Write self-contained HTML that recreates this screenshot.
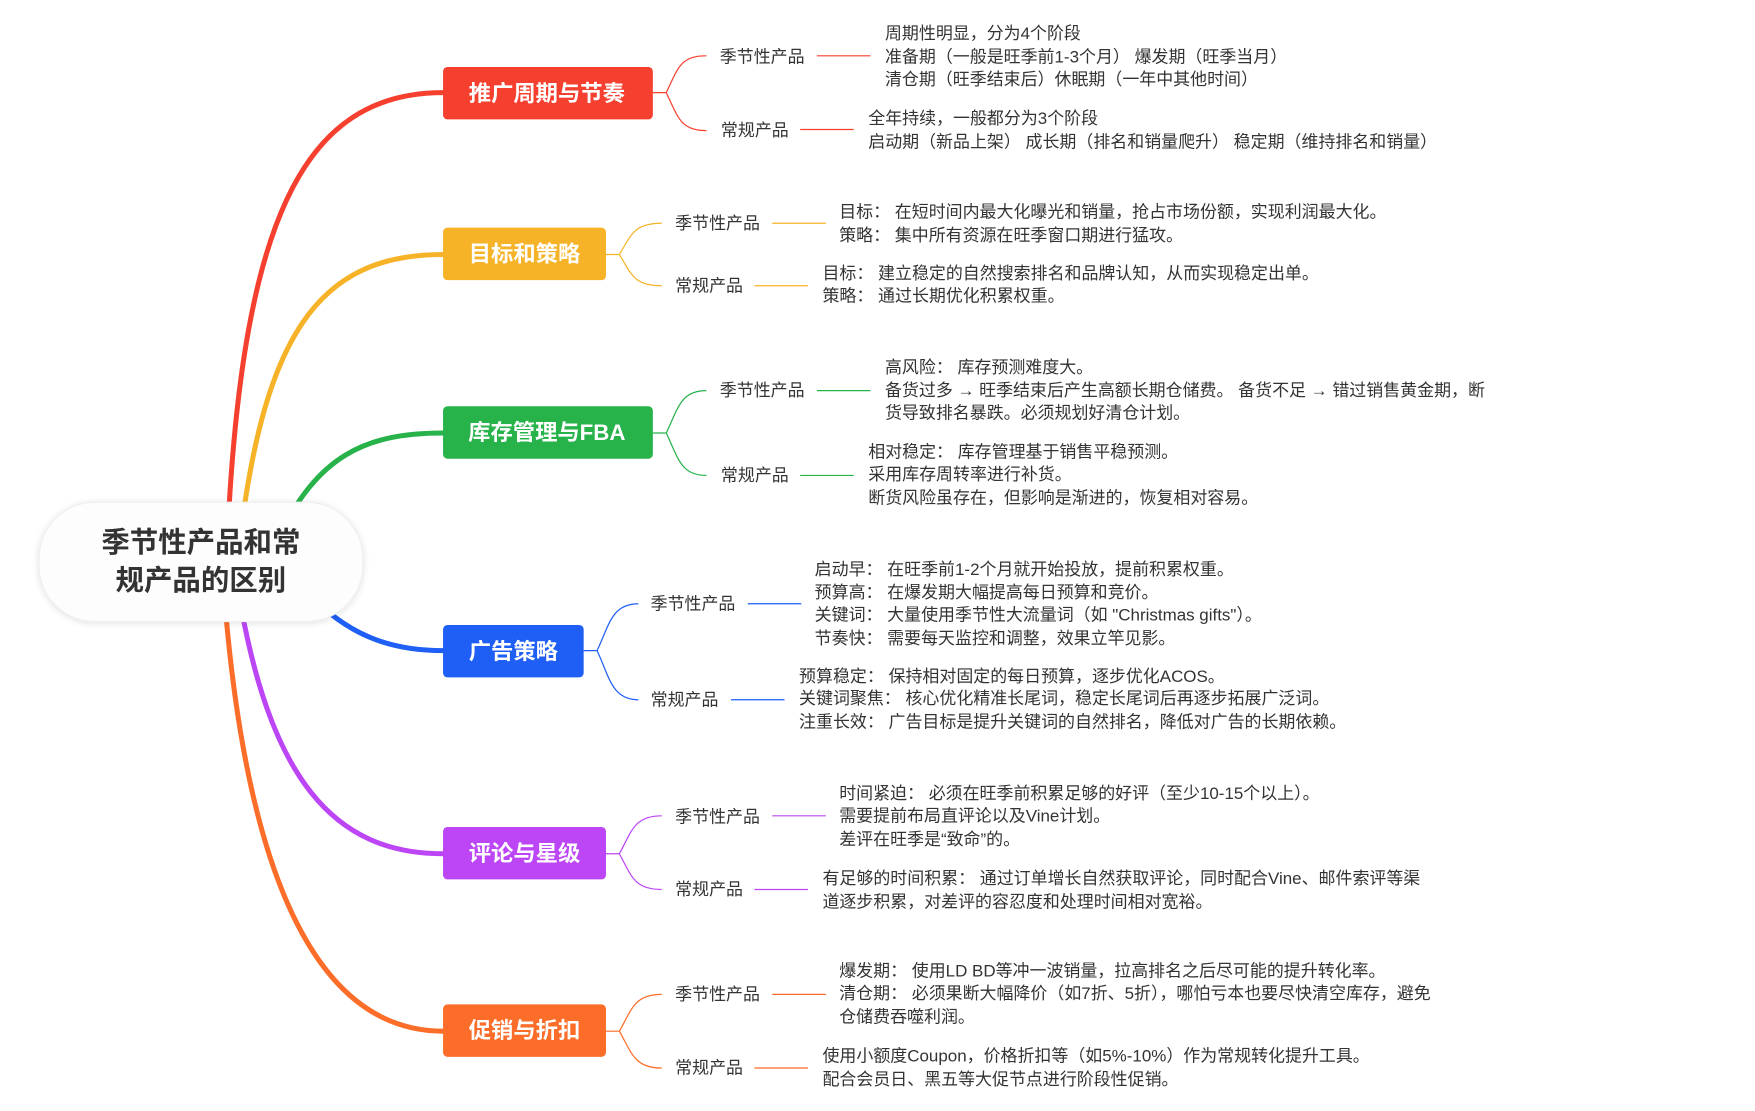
<!DOCTYPE html>
<html><head><meta charset="utf-8"><style>
html,body{margin:0;padding:0;background:#fff;width:1755px;height:1111px;overflow:hidden}
svg{display:block}
text{font-family:"Liberation Sans","Noto Sans CJK SC",sans-serif}
.t{font-size:15.2px;fill:#333;dominant-baseline:middle}
.m{font-size:20px;font-weight:bold;fill:#fff;dominant-baseline:middle;text-anchor:middle}
</style></head><body>
<svg width="1755" height="1111" viewBox="0 0 1572.6 995.5" xmlns="http://www.w3.org/2000/svg">
<defs><filter id="sh" x="-20%" y="-20%" width="140%" height="140%"><feDropShadow dx="0" dy="1" stdDeviation="3" flood-color="#000" flood-opacity="0.12"/></filter></defs>
<g fill="none" stroke-width="4.5" stroke-linecap="round">
<path d="M203 500 C215 200 270 83 397 83" stroke="#f5402f"/>
<path d="M213 500 C235 300 285 228 397 228" stroke="#f6b328"/>
<path d="M250 480 C285 410 325 388 397 388" stroke="#27b24a"/>
<path d="M270 525 C310 570 350 583 397 583" stroke="#1f5ff5"/>
<path d="M212 520 C240 700 300 765 397 765" stroke="#bc45f5"/>
<path d="M200 520 C220 800 290 924 397 924" stroke="#fb6d28"/>
</g>
<g fill="none" stroke-width="1.1">
<g stroke="#f5402f"><path d="M585 83 H597 C608 60 610 50 633 50 M597 83 C608 106 610 117 633 117"/><path d="M732 50 H780 M717 116 H765"/></g>
<g stroke="#f6b328"><path d="M543 228 H555 C566 210 568 200 593 200 M555 228 C566 246 568 256 593 256"/><path d="M692 200 H740 M676 256 H724"/></g>
<g stroke="#27b24a"><path d="M585 388 H597 C608 365 610 350 633 350 M597 388 C608 411 610 426 633 426"/><path d="M732 350 H780 M717 426 H765"/></g>
<g stroke="#1f5ff5"><path d="M523 583 H535 C546 560 548 541 572 541 M535 583 C546 606 548 627 572 627"/><path d="M670 541 H718 M655 627 H703"/></g>
<g stroke="#bc45f5"><path d="M543 765 H555 C566 745 568 731 593 731 M555 765 C566 785 568 797 593 797"/><path d="M692 731 H740 M676 797 H724"/></g>
<g stroke="#fb6d28"><path d="M543 924 H555 C566 905 568 891 593 891 M555 924 C566 943 568 957 593 957"/><path d="M692 891 H740 M676 957 H724"/></g>
</g>
<rect x="35" y="450" width="290" height="107" rx="50" fill="#fdfdfd" stroke="#eee" filter="url(#sh)"/>
<text x="180" y="488" font-size="25.5" font-weight="bold" fill="#333" text-anchor="middle" dominant-baseline="middle">季节性产品和常</text>
<text x="180" y="522" font-size="25.5" font-weight="bold" fill="#333" text-anchor="middle" dominant-baseline="middle">规产品的区别</text>
<rect x="397" y="60" width="188" height="47" rx="4" fill="#f5402f"/><text class="m" x="490" y="85">推广周期与节奏</text>
<rect x="397" y="204" width="146" height="47" rx="4" fill="#f6b328"/><text class="m" x="470" y="229">目标和策略</text>
<rect x="397" y="364" width="188" height="47" rx="4" fill="#27b24a"/><text class="m" x="490" y="389">库存管理与FBA</text>
<rect x="397" y="560" width="126" height="47" rx="4" fill="#1f5ff5"/><text class="m" x="460" y="585">广告策略</text>
<rect x="397" y="741" width="146" height="47" rx="4" fill="#bc45f5"/><text class="m" x="470" y="766">评论与星级</text>
<rect x="397" y="900" width="146" height="47" rx="4" fill="#fb6d28"/><text class="m" x="470" y="925">促销与折扣</text>

<text class="t" x="645" y="52">季节性产品</text><text class="t" x="646" y="118">常规产品</text>
<text class="t" x="793" y="31">周期性明显，分为4个阶段</text>
<text class="t" x="793" y="52">准备期（一般是旺季前1-3个月） 爆发期（旺季当月）</text>
<text class="t" x="793" y="72">清仓期（旺季结束后）休眠期（一年中其他时间）</text>
<text class="t" x="778" y="107">全年持续，一般都分为3个阶段</text>
<text class="t" x="778" y="128">启动期（新品上架） 成长期（排名和销量爬升） 稳定期（维持排名和销量）</text>

<text class="t" x="605" y="201">季节性产品</text><text class="t" x="605" y="257">常规产品</text>
<text class="t" x="752" y="191">目标： 在短时间内最大化曝光和销量，抢占市场份额，实现利润最大化。</text>
<text class="t" x="752" y="212">策略： 集中所有资源在旺季窗口期进行猛攻。</text>
<text class="t" x="737" y="246">目标： 建立稳定的自然搜索排名和品牌认知，从而实现稳定出单。</text>
<text class="t" x="737" y="266">策略： 通过长期优化积累权重。</text>

<text class="t" x="645" y="351">季节性产品</text><text class="t" x="646" y="427">常规产品</text>
<text class="t" x="793" y="330">高风险： 库存预测难度大。</text>
<text class="t" x="793" y="351">备货过多 → 旺季结束后产生高额长期仓储费。 备货不足 → 错过销售黄金期，断</text>
<text class="t" x="793" y="371">货导致排名暴跌。必须规划好清仓计划。</text>
<text class="t" x="778" y="406">相对稳定： 库存管理基于销售平稳预测。</text>
<text class="t" x="778" y="426">采用库存周转率进行补货。</text>
<text class="t" x="778" y="447">断货风险虽存在，但影响是渐进的，恢复相对容易。</text>

<text class="t" x="583" y="542">季节性产品</text><text class="t" x="583" y="628">常规产品</text>
<text class="t" x="730" y="511">启动早： 在旺季前1-2个月就开始投放，提前积累权重。</text>
<text class="t" x="730" y="532">预算高： 在爆发期大幅提高每日预算和竞价。</text>
<text class="t" x="730" y="552">关键词： 大量使用季节性大流量词（如 "Christmas gifts"）。</text>
<text class="t" x="730" y="573">节奏快： 需要每天监控和调整，效果立竿见影。</text>
<text class="t" x="716" y="607">预算稳定： 保持相对固定的每日预算，逐步优化ACOS。</text>
<text class="t" x="716" y="627">关键词聚焦： 核心优化精准长尾词，稳定长尾词后再逐步拓展广泛词。</text>
<text class="t" x="716" y="648">注重长效： 广告目标是提升关键词的自然排名，降低对广告的长期依赖。</text>

<text class="t" x="605" y="733">季节性产品</text><text class="t" x="605" y="798">常规产品</text>
<text class="t" x="752" y="712">时间紧迫： 必须在旺季前积累足够的好评（至少10-15个以上）。</text>
<text class="t" x="752" y="732">需要提前布局直评论以及Vine计划。</text>
<text class="t" x="752" y="753">差评在旺季是“致命”的。</text>
<text class="t" x="737" y="788">有足够的时间积累： 通过订单增长自然获取评论，同时配合Vine、邮件索评等渠</text>
<text class="t" x="737" y="809">道逐步积累，对差评的容忍度和处理时间相对宽裕。</text>

<text class="t" x="605" y="892">季节性产品</text><text class="t" x="605" y="958">常规产品</text>
<text class="t" x="752" y="871">爆发期： 使用LD BD等冲一波销量，拉高排名之后尽可能的提升转化率。</text>
<text class="t" x="752" y="891">清仓期： 必须果断大幅降价（如7折、5折），哪怕亏本也要尽快清空库存，避免</text>
<text class="t" x="752" y="912">仓储费吞噬利润。</text>
<text class="t" x="737" y="947">使用小额度Coupon，价格折扣等（如5%-10%）作为常规转化提升工具。</text>
<text class="t" x="737" y="968">配合会员日、黑五等大促节点进行阶段性促销。</text>
</svg>
</body></html>
